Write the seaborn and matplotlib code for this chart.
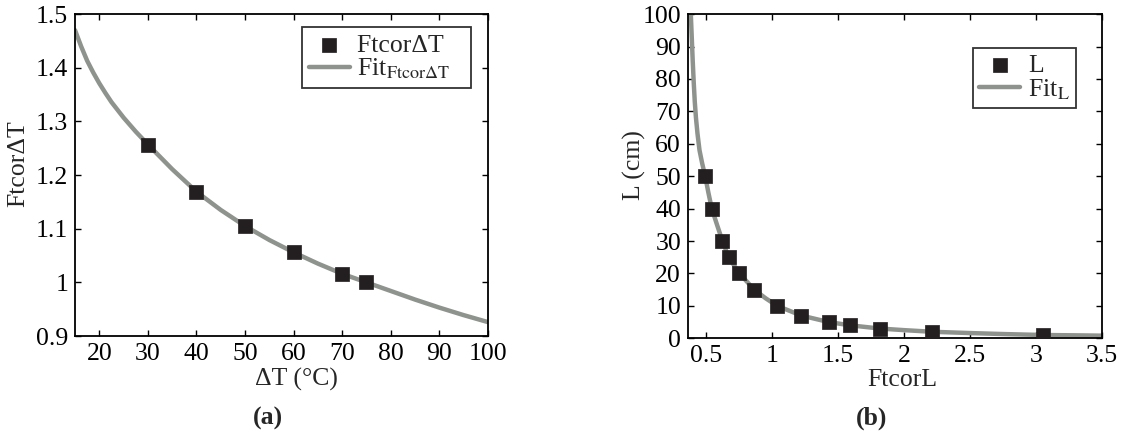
import matplotlib
matplotlib.use("Agg")
import matplotlib.pyplot as plt
import seaborn as sns

# --- data ---
# (a) FtcorΔT vs ΔT
dT_pts = [30, 40, 50, 60, 70, 75]
ftcor_dT_pts = [1.256, 1.169, 1.105, 1.056, 1.016, 1.000]
dT_fit = [15, 16.25, 17.5, 18.75, 20, 21.25, 22.5, 25, 27.5, 30, 35, 40, 45, 50,
          55, 60, 65, 70, 75, 80, 85, 90, 95, 100]
ftcor_dT_fit = [1.470, 1.440, 1.413, 1.391, 1.371, 1.353, 1.336, 1.307, 1.281, 1.257,
                1.211, 1.169, 1.135, 1.105, 1.079, 1.056, 1.035, 1.016, 1.000, 0.984,
                0.968, 0.953, 0.939, 0.926]

# (b) L vs FtcorL
ftcorL_pts = [0.490, 0.540, 0.621, 0.668, 0.750, 0.862, 1.036, 1.220, 1.427, 1.588, 1.815, 2.211, 3.053]
L_pts = [50, 40, 30, 25, 20, 15, 10, 7, 5, 4, 3, 2, 1]
ftcorL_fit = [0.381, 0.388, 0.395, 0.403, 0.411, 0.420, 0.432, 0.447, 0.467, 0.490,
              0.514, 0.540, 0.580, 0.621, 0.668, 0.750, 0.862, 0.950, 1.036, 1.220,
              1.427, 1.588, 1.815, 2.000, 2.211, 2.500, 2.750, 3.053, 3.300, 3.500]
L_fit = [100, 93, 86, 79, 73, 68, 63, 58, 54, 50,
         45, 40, 35, 30, 25, 20, 15, 12.3, 10, 7,
         5, 4, 3, 2.5, 2, 1.6, 1.3, 1.0, 0.9, 0.8]

sns.set_style("ticks")
plt.rcParams["font.family"] = ["Liberation Serif", "DejaVu Serif"]
plt.rcParams["mathtext.fontset"] = "stix"
plt.rcParams["axes.linewidth"] = 1.3
plt.rcParams["xtick.direction"] = "in"
plt.rcParams["ytick.direction"] = "in"
plt.rcParams["xtick.top"] = True
plt.rcParams["ytick.right"] = True

FS = 18.5
MARK = "#231f20"
LINE = "#8e938e"

fig = plt.figure(figsize=(11.25, 4.41), dpi=100)
ax1 = fig.add_axes([0.0667, 0.238, 0.367, 0.730])
ax2 = fig.add_axes([0.6116, 0.233, 0.3677, 0.735])


def panel(ax, xf, yf, xp, yp, pt_label, fit_label):
    sns.lineplot(x=xf, y=yf, ax=ax, color=LINE, lw=3.2, label=fit_label, zorder=2, sort=False)
    sns.scatterplot(x=xp, y=yp, ax=ax, marker="s", s=90, color=MARK,
                    edgecolor=MARK, linewidth=0.5, label=pt_label, zorder=3)
    ax.tick_params(labelsize=FS, length=4, width=1, colors="black", pad=5)
    for s in ax.spines.values():
        s.set_color("black")


panel(ax1, dT_fit, ftcor_dT_fit, dT_pts, ftcor_dT_pts,
      "Ftcor\u0394T   ", r"Fit$_{\mathrm{Ftcor}\Delta\mathrm{T}}$   ")
ax1.set_xlim(15, 100)
ax1.set_ylim(0.9, 1.5)
ax1.set_xticks(range(20, 101, 10))
ax1.set_yticks([0.9, 1.0, 1.1, 1.2, 1.3, 1.4, 1.5])
ax1.set_yticklabels(["0.9", "1", "1.1", "1.2", "1.3", "1.4", "1.5"])
ax1.set_xlabel("\u0394T (\u00b0C)", fontsize=FS)
ax1.set_ylabel("Ftcor\u0394T", fontsize=FS)
ax1.xaxis.set_label_coords(0.537, -0.098)
ax1.yaxis.set_label_coords(-0.112, 0.537)

panel(ax2, ftcorL_fit, L_fit, ftcorL_pts, L_pts, "L", r"Fit$_{\mathrm{L}}$")
ax2.set_xlim(0.36, 3.5)
ax2.set_ylim(0, 100)
ax2.set_xticks([0.5, 1, 1.5, 2, 2.5, 3, 3.5])
ax2.set_xticklabels(["0.5", "1", "1.5", "2", "2.5", "3", "3.5"])
ax2.set_yticks(range(0, 101, 10))
ax2.set_xlabel("FtcorL", fontsize=FS)
ax2.set_ylabel("L (cm)", fontsize=FS)
ax2.xaxis.set_label_coords(0.519, -0.094)
ax2.yaxis.set_label_coords(-0.102, 0.534)

# legends: marker entry first, fit line second
for ax, anchor in [(ax1, (0.959, 0.959)), (ax2, (0.938, 0.896))]:
    h, l = ax.get_legend_handles_labels()
    leg = ax.legend(h[::-1], l[::-1], loc="upper right", bbox_to_anchor=anchor,
                    fontsize=FS, frameon=True, fancybox=False, edgecolor="black",
                    handlelength=1.6, handletextpad=0.3, labelspacing=0.0,
                    borderpad=0.25, borderaxespad=0)
    leg.get_frame().set_linewidth(1.3)

fig.text(0.238, 0.052, "(a)", fontsize=FS, fontweight="bold", ha="center", va="center")
fig.text(0.775, 0.052, "(b)", fontsize=FS, fontweight="bold", ha="center", va="center")

fig.savefig("out.png", dpi=100, facecolor="white")
plt.close(fig)
